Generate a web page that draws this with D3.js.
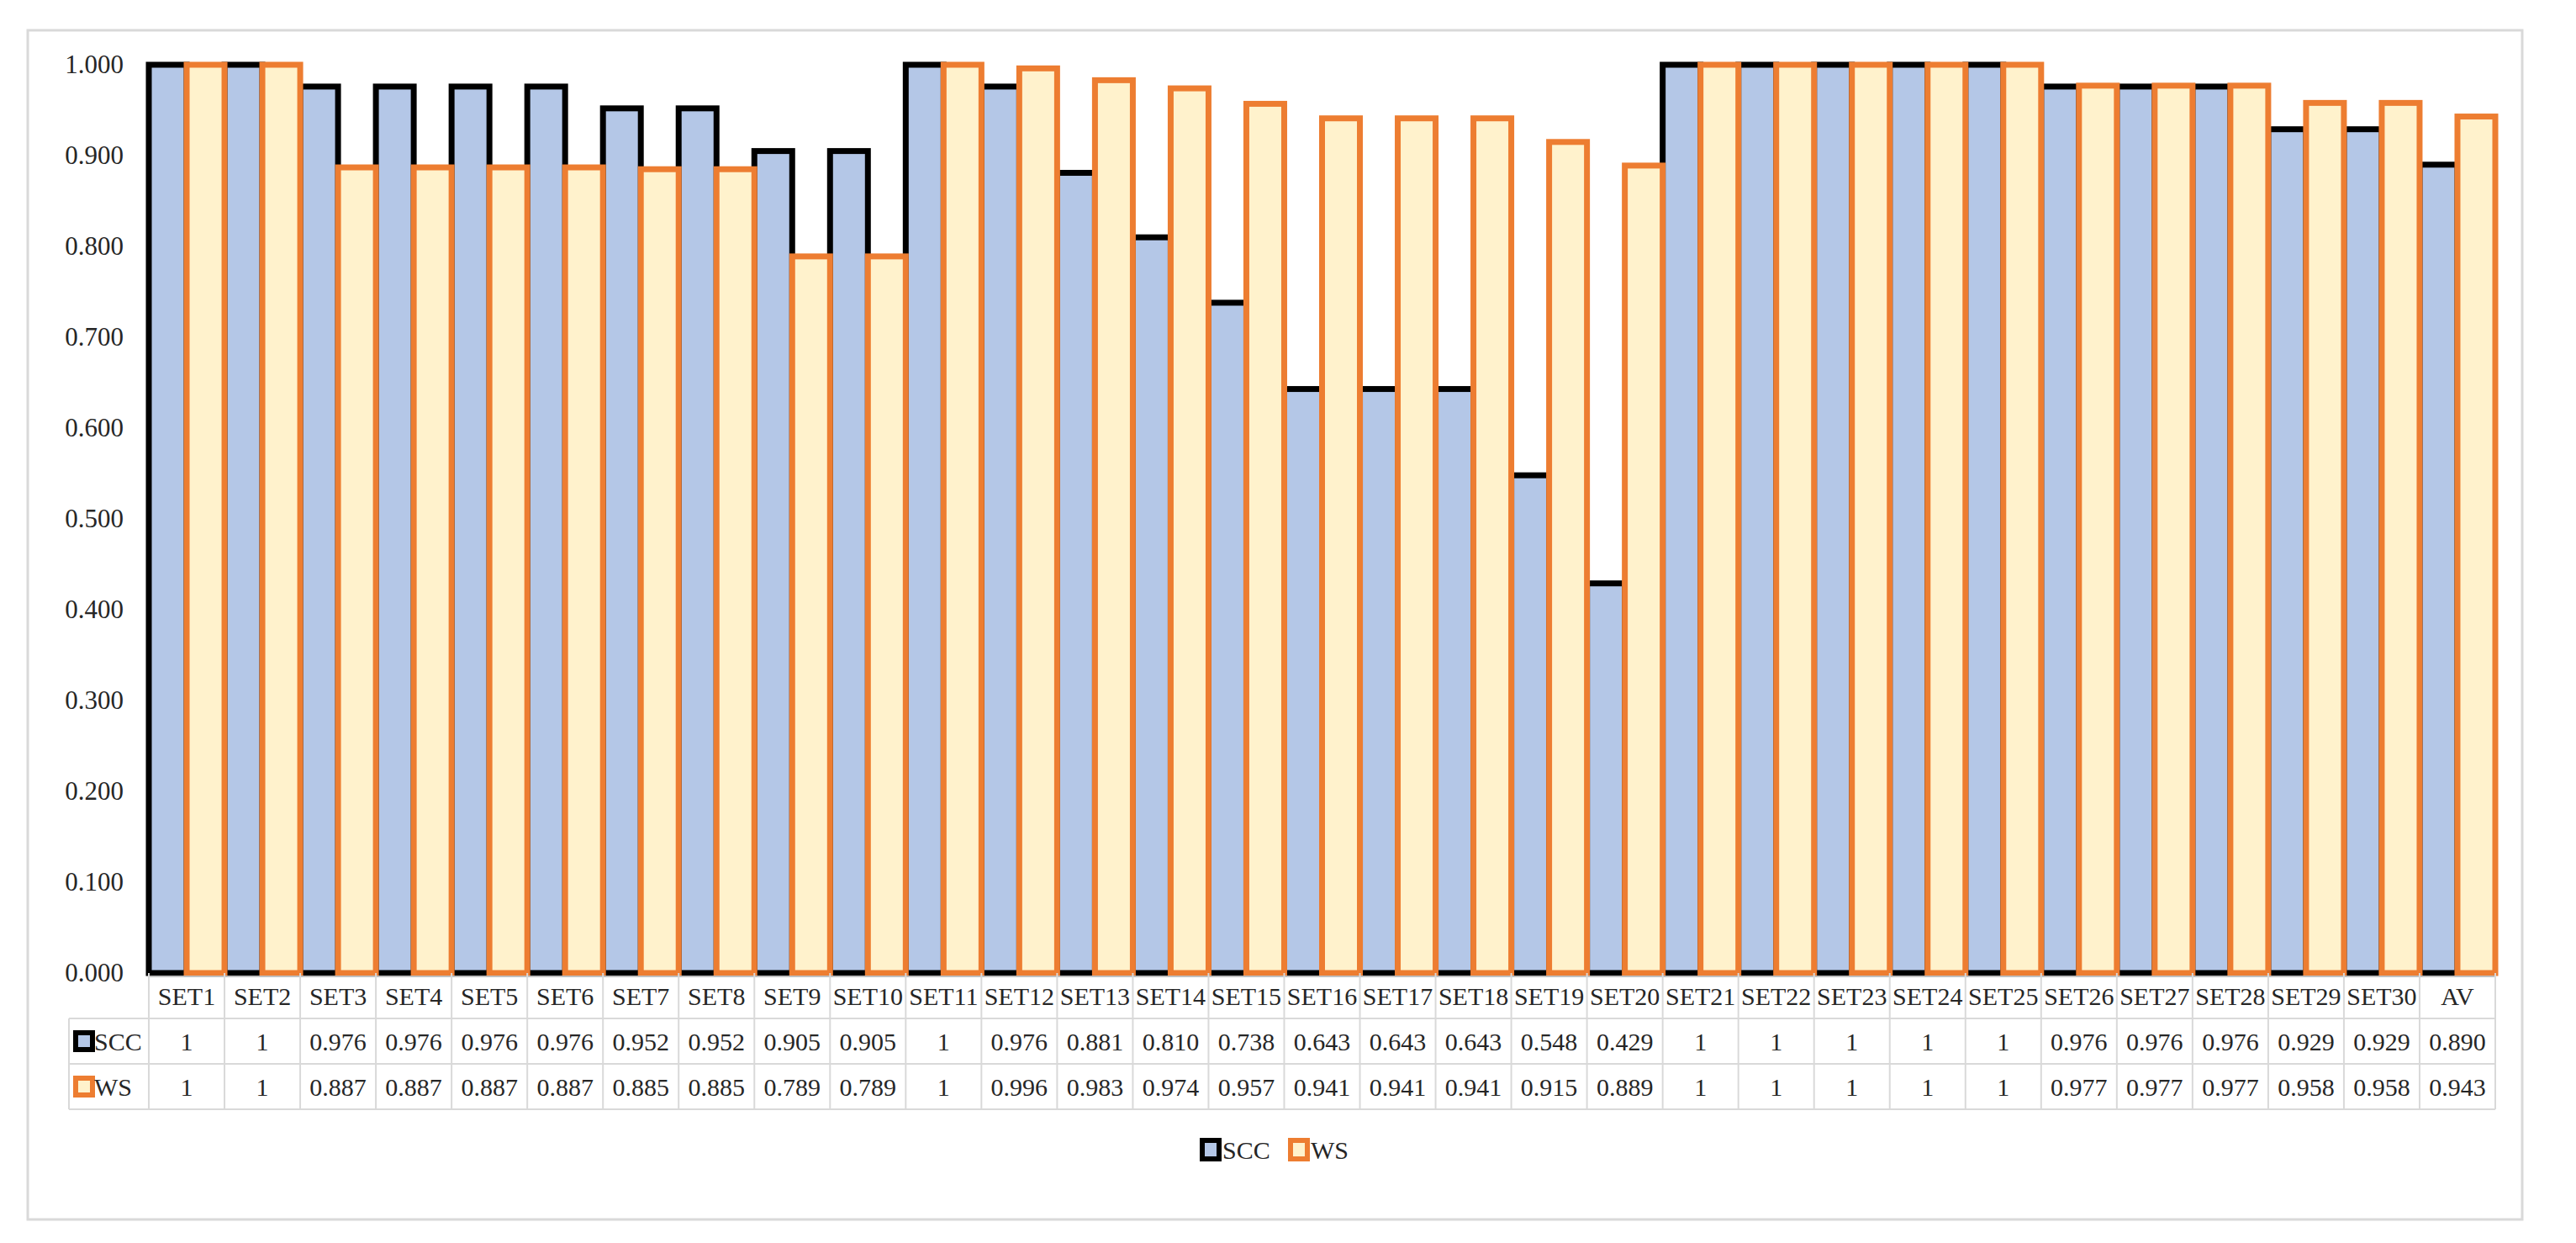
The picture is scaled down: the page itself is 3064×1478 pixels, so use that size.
<!DOCTYPE html>
<html>
<head>
<meta charset="utf-8">
<script src="https://cdn.jsdelivr.net/npm/d3@7"></script>
<style>
  body { margin: 0; background: #fff; }
  text { font-family: "Palatino Linotype", "Book Antiqua", "Liberation Serif", serif; fill: #262626; }
</style>
</head>
<body>
<div id="chart"></div>
<script>
// categories and series values
var categories = ["SET1","SET2","SET3","SET4","SET5","SET6","SET7","SET8","SET9","SET10",
  "SET11","SET12","SET13","SET14","SET15","SET16","SET17","SET18","SET19","SET20",
  "SET21","SET22","SET23","SET24","SET25","SET26","SET27","SET28","SET29","SET30","AV"];
var sccValues = [1,1,0.976,0.976,0.976,0.976,0.952,0.952,0.905,0.905,
  1,0.976,0.881,0.810,0.738,0.643,0.643,0.643,0.548,0.429,
  1,1,1,1,1,0.976,0.976,0.976,0.929,0.929,0.890];
var wsValues = [1,1,0.887,0.887,0.887,0.887,0.885,0.885,0.789,0.789,
  1,0.996,0.983,0.974,0.957,0.941,0.941,0.941,0.915,0.889,
  1,1,1,1,1,0.977,0.977,0.977,0.958,0.958,0.943];
var seriesNames = ["SCC","WS"];
var yTicks = [0,0.1,0.2,0.3,0.4,0.5,0.6,0.7,0.8,0.9,1.0];

var series = [
  {name: "SCC", values: sccValues, fill: "#b4c7e7", stroke: "#000000"},
  {name: "WS", values: wsValues, fill: "#fff2cc", stroke: "#ed7d31"}
];

var svgWidth = 3064, svgHeight = 1478;
var margin = {top: 77, left: 177, right: 3064 - 2968};
var plotHeight = 1157 - margin.top;
var width = svgWidth - margin.left - margin.right;
var rowH = 54;

var svg = d3.select("#chart").append("svg")
  .attr("width", svgWidth)
  .attr("height", svgHeight);

// outer chart border
svg.append("rect")
  .attr("x", 33).attr("y", 36)
  .attr("width", 3000 - 33).attr("height", 1450 - 36)
  .attr("fill", "none").attr("stroke", "#d9d9d9").attr("stroke-width", 3);

var chartGroup = svg.append("g")
  .attr("transform", `translate(${margin.left}, ${margin.top})`);

var x = d3.scaleBand().domain(categories).range([0, width]).padding(0);
var xInner = d3.scaleBand().domain(seriesNames).range([0, x.bandwidth()]).padding(0);
var y = d3.scaleLinear().domain([0, 1]).range([plotHeight, 0]);

// y axis labels
var leftAxis = d3.axisLeft(y).tickValues(yTicks).tickFormat(d3.format(".3f")).tickSize(0).tickPadding(30);
var yAxisG = chartGroup.append("g").call(leftAxis);
yAxisG.select(".domain").remove();
yAxisG.selectAll("text").style("font-size", "31px").attr("fill", "#262626")
  .style("font-family", "'Palatino Linotype','Book Antiqua','Liberation Serif',serif");

// bars
series.forEach(function(s) {
  chartGroup.append("g").selectAll("rect")
    .data(s.values)
    .enter()
    .append("rect")
    .attr("x", (d, i) => x(categories[i]) + xInner(s.name))
    .attr("y", d => y(d))
    .attr("width", xInner.bandwidth())
    .attr("height", d => y(0) - y(d))
    .attr("fill", s.fill)
    .attr("stroke", s.stroke)
    .attr("stroke-width", 7);
});

// category axis line
chartGroup.append("line")
  .attr("x1", 0).attr("x2", width)
  .attr("y1", y(0) + 4).attr("y2", y(0) + 4)
  .attr("stroke", "#bfbfbf").attr("stroke-width", 2);

// data table
var table = chartGroup.append("g").attr("transform", `translate(0, ${plotHeight})`);
var gridColor = "#d9d9d9";
var labelLeft = 82 - margin.left;

// horizontal lines
[rowH, rowH * 2, rowH * 3].forEach(function(yy) {
  table.append("line")
    .attr("x1", yy === rowH ? labelLeft : labelLeft).attr("x2", width)
    .attr("y1", yy).attr("y2", yy)
    .attr("stroke", gridColor).attr("stroke-width", 2);
});
// vertical lines
categories.concat(["end"]).forEach(function(c, i) {
  var xx = i < categories.length ? x(c) : width;
  table.append("line")
    .attr("x1", xx).attr("x2", xx)
    .attr("y1", 0).attr("y2", rowH * 3)
    .attr("stroke", gridColor).attr("stroke-width", 2);
});
table.append("line")
  .attr("x1", labelLeft).attr("x2", labelLeft)
  .attr("y1", rowH).attr("y2", rowH * 3)
  .attr("stroke", gridColor).attr("stroke-width", 2);

// header row
table.selectAll(".cat")
  .data(categories)
  .enter()
  .append("text")
  .attr("x", d => x(d) + x.bandwidth() / 2)
  .attr("y", rowH / 2)
  .attr("dy", "0.35em")
  .attr("text-anchor", "middle")
  .style("font-size", "30px")
  .text(d => d);

var fmt = function(v) { return v === 1 ? "1" : d3.format(".3f")(v); };

series.forEach(function(s, r) {
  var rowY = rowH * (r + 1);
  table.append("g").selectAll("text")
    .data(s.values)
    .enter()
    .append("text")
    .attr("x", (d, i) => x(categories[i]) + x.bandwidth() / 2)
    .attr("y", rowY + rowH / 2)
    .attr("dy", "0.35em")
    .attr("text-anchor", "middle")
    .style("font-size", "30px")
    .text(d => fmt(d));

  // legend key in table
  table.append("rect")
    .attr("x", labelLeft + 8).attr("y", rowY + rowH / 2 - 10)
    .attr("width", 20).attr("height", 20)
    .attr("fill", s.fill).attr("stroke", s.stroke).attr("stroke-width", 6);
  table.append("text")
    .attr("x", labelLeft + 30)
    .attr("y", rowY + rowH / 2)
    .attr("dy", "0.35em")
    .style("font-size", "30px")
    .text(s.name);
});

// legend at bottom
var legend = svg.append("g").attr("transform", "translate(1430, 1367)");
var lx = 0;
series.forEach(function(s) {
  legend.append("rect")
    .attr("x", lx).attr("y", -11)
    .attr("width", 20).attr("height", 22)
    .attr("fill", s.fill).attr("stroke", s.stroke).attr("stroke-width", 6);
  legend.append("text")
    .attr("x", lx + 24).attr("y", 0).attr("dy", "0.35em")
    .style("font-size", "30px")
    .text(s.name);
  lx += 105;
});
</script>
</body>
</html>
